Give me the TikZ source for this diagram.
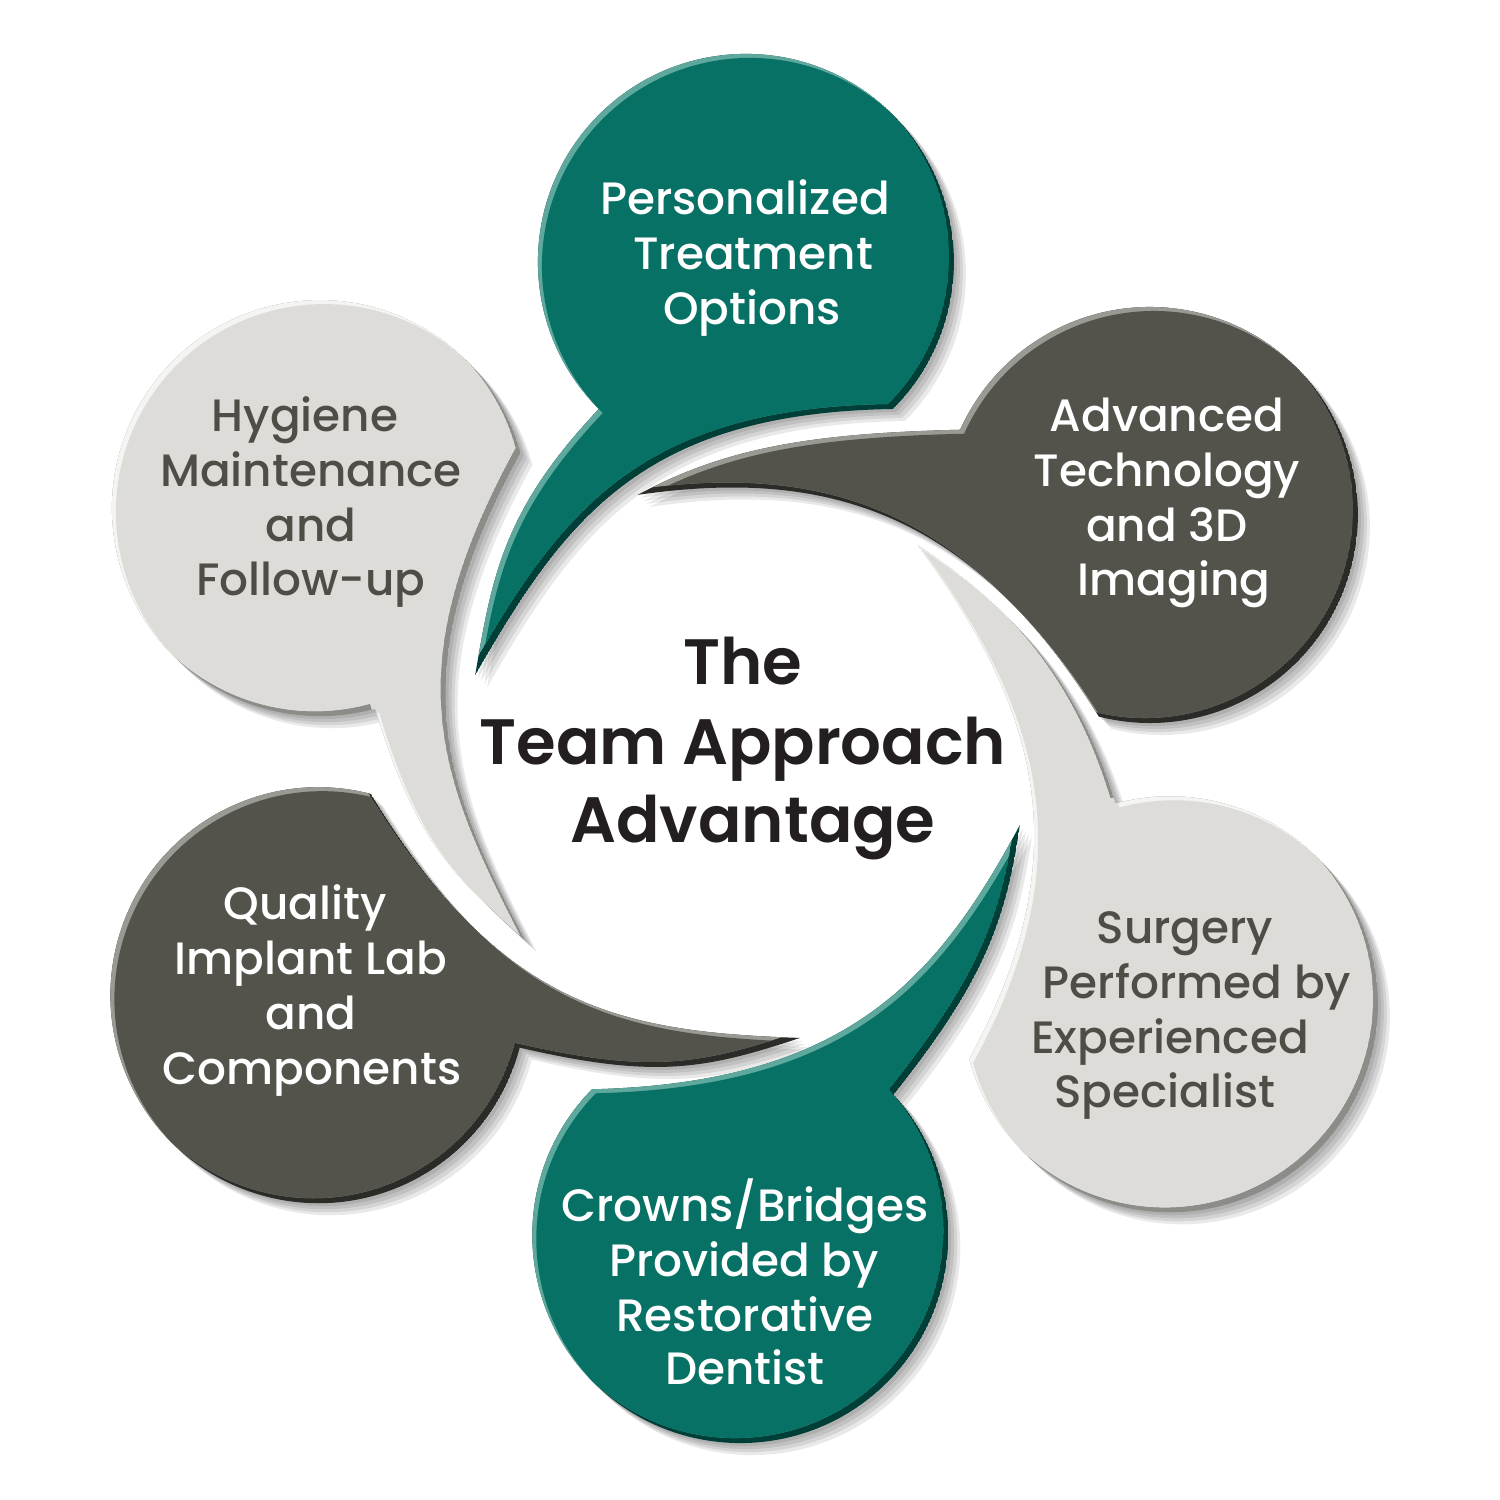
\documentclass[tikz,border=0pt]{standalone}
\usepackage{fontspec}
\setmainfont{Poppins}[UprightFont={* Medium},BoldFont={* SemiBold}]
\usetikzlibrary{calc}
\definecolor{tealM}{HTML}{067164}
\definecolor{tealL}{HTML}{5FA89D}
\definecolor{tealD}{HTML}{003F37}
\definecolor{dgM}{HTML}{53534C}
\definecolor{dgL}{HTML}{9A9A94}
\definecolor{dgD}{HTML}{2B2B27}
\definecolor{lgM}{HTML}{DDDCD9}
\definecolor{lgL}{HTML}{F4F4F2}
\definecolor{lgD}{HTML}{8C8C88}
\definecolor{txtgray}{HTML}{4F4E46}
\definecolor{titlec}{HTML}{231F20}
\tikzset{
  bshape/.style n args={4}{insert path={
    (152,{344+#1}) arc[start angle=-45, end angle=#4, radius=208]
    .. controls (-238,{243+#1}) and ($(#2:#3)+(#2-83.4:100)$) .. (#2:#3)
    .. controls ($(#2:#3)+(#2-103.6:180)$) and (-99,{340+#1}) .. (152,{344+#1})
    -- cycle}},
  lbl/.style={anchor=base, font=\fontsize{25.8}{31}\selectfont, inner sep=0pt},
  lw/.style={lbl, text=white},
  ld/.style={lbl, text=txtgray},
  ttl/.style={anchor=base, font=\bfseries\fontsize{36.5}{44}\selectfont, inner sep=0pt, text=titlec}
}
\newcommand\bshadow[5]{%
  \foreach \d in {3,6,9,12}{%
    \fill[black,opacity=0.085,shift={(741+\d,747-\d)},rotate=#1,bshape={#2}{#3}{#4}{#5}];}}
\newcommand\bubble[8]{%
  \begin{scope}
    \clip[shift={(741,747)},rotate=#1,bshape={#2}{#3}{#4}{#5}];
    \fill[#8,shift={(741,747)},rotate=#1,bshape={#2}{#3}{#4}{#5}];
    \begin{scope}
      \clip[shift={(736,752)},rotate=#1,bshape={#2}{#3}{#4}{#5}];
      \fill[#7,shift={(736,752)},rotate=#1,bshape={#2}{#3}{#4}{#5}];
      \fill[#6,shift={(745,743)},rotate=#1,bshape={#2}{#3}{#4}{#5}];
    \end{scope}
  \end{scope}}
\begin{document}
\begin{tikzpicture}[x=0.02cm,y=0.02cm]
\useasboundingbox (0,0) rectangle (1500,1500);
\fill[white] (0,0) rectangle (1500,1500);
% shadows
\bshadow{0}{0}{163.7}{277}{225}
\bshadow{-59.2}{-18}{171}{278}{215}
\bshadow{-119.8}{6}{169.4}{273}{225}
\bshadow{-179.5}{-9}{165}{288}{222}
\bshadow{-239.6}{-4}{161.3}{291}{225}
\bshadow{-299.6}{-4}{160.5}{286}{225}
% bubbles
\bubble{0}{0}{163.7}{277}{225}{tealM}{tealL}{tealD}
\bubble{-59.2}{-18}{171}{278}{215}{dgM}{dgL}{dgD}
\bubble{-119.8}{6}{169.4}{273}{225}{lgM}{lgL}{lgD}
\bubble{-179.5}{-9}{165}{288}{222}{tealM}{tealL}{tealD}
\bubble{-239.6}{-4}{161.3}{291}{225}{dgM}{dgL}{dgD}
\bubble{-299.6}{-4}{160.5}{286}{225}{lgM}{lgL}{lgD}
% texts
\node[lw] (t1a) at (745,1285) {Personalized};
\node[lw] (t1b) at (753,1230) {Treatment};
\node[lw] (t1c) at (752,1175) {Options};
\node[lw] (t2a) at (1167,1068) {Advanced};
\node[lw] (t2b) at (1167,1013) {Technology};
\node[lw] (t2c) at (1167,958) {and 3D};
\node[lw] (t2d) at (1174,904) {Imaging};
\node[ld] (t3a) at (1185,556) {Surgery};
\node[ld] (t3b) at (1197,501) {Performed by};
\node[ld] (t3c) at (1170,446) {Experienced};
\node[ld] (t3d) at (1165,392) {Specialist};
\node[lw] (t4a) at (745,278) {Crowns/Bridges};
\node[lw] (t4b) at (744,223) {Provided by};
\node[lw] (t4c) at (745,168) {Restorative};
\node[lw] (t4d) at (745,115) {Dentist};
\node[lw] (t5a) at (305,580) {Quality};
\node[lw] (t5b) at (311,525) {Implant Lab};
\node[lw] (t5c) at (311,470) {and};
\node[lw] (t5d) at (312,415) {Components};
\node[ld] (t6a) at (305,1068) {Hygiene};
\node[ld] (t6b) at (311,1013) {Maintenance};
\node[ld] (t6c) at (311,958) {and};
\node[ld] (t6d) at (311,904) {Follow-up};
\node[ttl] (c1) at (743,815) {The};
\node[ttl] (c2) at (743,735) {Team Approach};
\node[ttl] (c3) at (753,657) {Advantage};
\end{tikzpicture}
\end{document}
